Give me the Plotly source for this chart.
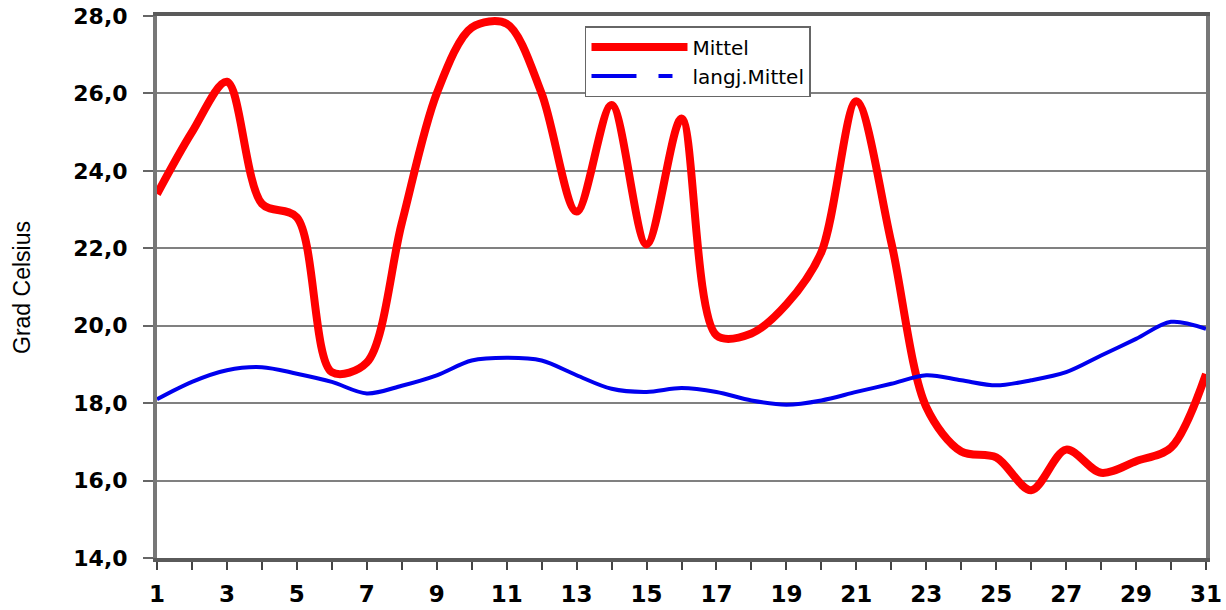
import plotly.graph_objects as go

days = list(range(1, 32))
tick_labels = [str(d) if d % 2 == 1 else "" for d in days]

mittel = [23.4, 25.0, 26.3, 23.15, 22.8, 18.8, 19.05, 22.65, 26.0, 27.7,
          27.8, 26.0, 22.95, 25.7, 22.1, 25.35, 19.75, 19.8, 20.55, 21.9,
          25.8, 22.15, 17.9, 16.75, 16.6, 15.75, 16.8, 16.2, 16.5, 16.85, 18.75]

langj_mittel = [18.1, 18.55, 18.85, 18.93, 18.76, 18.55, 18.25, 18.45, 18.72, 19.1,
                19.17, 19.1, 18.72, 18.37, 18.29, 18.39, 18.29, 18.07, 17.96, 18.07,
                18.29, 18.5, 18.72, 18.59, 18.46, 18.59, 18.8, 19.23, 19.66, 20.1, 19.92]

y_ticks = [14, 16, 18, 20, 22, 24, 26, 28]

fig = go.Figure()
fig.add_trace(go.Scatter(
    x=days, y=mittel, name="Mittel", mode="lines",
    line=dict(color="#ff0000", width=8, shape="spline", smoothing=0.9),
))
fig.add_trace(go.Scatter(
    x=days, y=langj_mittel, name="langj.Mittel", mode="lines",
    line=dict(color="#0000ee", width=4, shape="spline", smoothing=0.9),
    showlegend=False,
))
# legend-only entry reproducing the dashed legend sample
fig.add_trace(go.Scatter(
    x=[None], y=[None], name="langj.Mittel", mode="lines",
    line=dict(color="#0000ee", width=4, dash="45px,22px,14px"),
))

fig.update_layout(
    width=1226, height=610,
    margin=dict(l=157, r=20, t=16, b=52, autoexpand=False),
    paper_bgcolor="white", plot_bgcolor="white",
    separators=",.",
    font=dict(family="DejaVu Sans", color="black"),
    legend=dict(
        x=0.408, y=0.9815, xanchor="left", yanchor="top",
        bgcolor="white", bordercolor="#666666", borderwidth=1.5,
        font=dict(family="DejaVu Sans", size=20, color="black"),
        itemwidth=96, tracegroupgap=0,
    ),
    annotations=[dict(
        text="Grad Celsius", xref="paper", yref="paper",
        x=-0.1287, y=0.5, xanchor="center", yanchor="middle",
        textangle=-90, showarrow=False,
        font=dict(family="Liberation Sans", size=23, color="black"),
    )],
)
fig.update_xaxes(
    range=[1, 31], tickmode="array", tickvals=days, ticktext=tick_labels,
    showline=True, linecolor="#5a5a5a", linewidth=4, mirror=True,
    ticks="outside", ticklen=8, tickcolor="#444444", tickwidth=1.5,
    showgrid=False, zeroline=False, automargin=False,
    ticklabelstandoff=4, ticklabeloverflow="allow",
    tickfont=dict(family="DejaVu Sans", size=23, color="black", weight="bold"),
)
fig.update_yaxes(
    range=[14, 28], tickmode="array", tickvals=y_ticks, tickformat=".1f",
    showline=True, linecolor="#777777", linewidth=4, mirror=True,
    ticks="outside", ticklen=10, tickcolor="#666666", tickwidth=1.5,
    showgrid=True, gridcolor="#808080", gridwidth=1.5, zeroline=False,
    automargin=False, ticklabelstandoff=11, ticklabeloverflow="allow",
    tickfont=dict(family="DejaVu Sans", size=22, color="black", weight="bold"),
)

# remove the default 8px page margin so the figure fills the 1226x610 window exactly
fig.write_html("out.html", config={"displayModeBar": False},
               post_script="document.body.style.margin='0px';")
